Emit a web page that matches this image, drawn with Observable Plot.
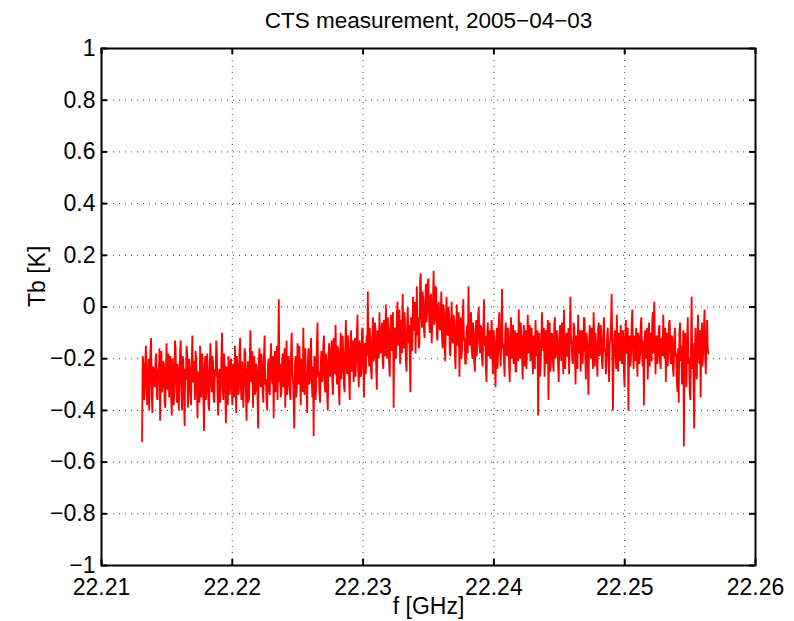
<!DOCTYPE html>
<html>
<head>
<meta charset="utf-8">
<script src="https://cdn.jsdelivr.net/npm/d3@7"></script>
<script src="https://cdn.jsdelivr.net/npm/@observablehq/plot@0.6"></script>
<style>
  html, body { margin: 0; padding: 0; background: #fff; }
  #chart svg { display: block; }
</style>
</head>
<body>
<div id="chart"></div>
<script>
const titleText = "CTS measurement, 2005\u221204\u221203";
const xLabel = "f [GHz]";
const yLabel = "Tb [K]";
const xTicks = [22.21, 22.22, 22.23, 22.24, 22.25, 22.26];
const yTicks = [-1, -0.8, -0.6, -0.4, -0.2, 0, 0.2, 0.4, 0.6, 0.8, 1];
const fStart = 22.2131;   // first channel frequency [GHz]
const fEnd = 22.2564;     // last channel frequency [GHz]

// brightness temperature per channel [K]
const tb = [
  -0.52, -0.19, -0.22, -0.36, -0.33, -0.21, -0.15, -0.31, -0.38, -0.26, -0.20, -0.40, -0.29, -0.17, -0.12, -0.34, -0.41, -0.23, -0.24, -0.30,
  -0.31, -0.20, -0.18, -0.35, -0.36, -0.24, -0.26, -0.16, -0.44, -0.28, -0.17, -0.33, -0.30, -0.21, -0.22, -0.37, -0.39, -0.25, -0.14, -0.32,
  -0.27, -0.18, -0.35, -0.23, -0.19, -0.34, -0.42, -0.20, -0.23, -0.38, -0.33, -0.13, -0.16, -0.29, -0.37, -0.22, -0.25, -0.40, -0.30, -0.17,
  -0.13, -0.31, -0.40, -0.19, -0.21, -0.35, -0.46, -0.24, -0.28, -0.15, -0.18, -0.39, -0.34, -0.20, -0.24, -0.33, -0.38, -0.21, -0.11, -0.29,
  -0.29, -0.21, -0.36, -0.17, -0.20, -0.32, -0.43, -0.25, -0.26, -0.37, -0.15, -0.30, -0.35, -0.18, -0.22, -0.34, -0.48, -0.23, -0.19, -0.36,
  -0.31, -0.18, -0.25, -0.38, -0.40, -0.22, -0.14, -0.29, -0.33, -0.19, -0.21, -0.36, -0.37, -0.24, -0.27, -0.13, -0.17, -0.34, -0.42, -0.26,
  -0.24, -0.37, -0.32, -0.20, -0.10, -0.30, -0.36, -0.18, -0.22, -0.33, -0.45, -0.23, -0.28, -0.38, -0.19, -0.27, -0.34, -0.21,
  -0.20, -0.31, -0.38, -0.22, -0.27, -0.35, -0.15, -0.29, -0.41, -0.19, -0.23, -0.34, -0.33, -0.17, -0.12, -0.30, -0.36, -0.21, -0.25, -0.39,
  -0.30, -0.16, -0.18, -0.33, -0.44, -0.26, -0.21, -0.37, -0.35, -0.20, -0.09, -0.28, -0.29, -0.17, -0.39, -0.23, -0.19, -0.34, -0.32, -0.22,
  -0.24, -0.35, -0.47, -0.21, -0.16, -0.29, -0.31, -0.18, -0.22, -0.33, -0.37, -0.19, -0.11, -0.30, -0.28, -0.36, -0.40, -0.23, -0.20, -0.32,
  -0.34, -0.21, -0.14, -0.27, -0.30, -0.19, -0.43, -0.24, -0.17, -0.33, -0.26, -0.15, -0.36, -0.20, 0.03, -0.29, -0.22, -0.35,
  -0.33, -0.22, -0.18, -0.31, -0.27, -0.16, -0.39, -0.25, -0.13, -0.34, -0.30, -0.19, -0.21, -0.32, -0.36, -0.17, -0.10, -0.26, -0.28, -0.37,
  -0.47, -0.23, -0.19, -0.35, -0.32, -0.14, -0.24, -0.30, -0.15, -0.27, -0.38, -0.20, -0.22, -0.33, -0.08, -0.25, -0.34, -0.16, -0.26, -0.31,
  -0.41, -0.21, -0.16, -0.30, -0.29, -0.18, -0.12, -0.28, -0.35, -0.23, -0.50, -0.19, -0.20, -0.36, -0.31, -0.14, -0.06, -0.27, -0.25, -0.33,
  -0.37, -0.22, -0.17, -0.29, -0.27, -0.15, -0.11, -0.30, -0.33, -0.18, -0.21, -0.34, -0.40, -0.19, -0.14, -0.26,
  -0.27, -0.17, -0.13, -0.29, -0.34, -0.12, -0.19, -0.26, -0.07, -0.22, -0.30, -0.15, -0.16, -0.31, -0.38, -0.18, -0.10, -0.28, -0.24, -0.11,
  -0.18, -0.30, -0.33, -0.15, -0.05, -0.23, -0.26, -0.11, -0.14, -0.28, -0.36, -0.17, -0.09, -0.25, -0.22, -0.13, -0.29, -0.19, -0.12, -0.27,
  -0.20, -0.10, -0.03, -0.24, -0.31, -0.13, -0.15, -0.27, -0.25, -0.09, -0.08, -0.21, -0.35, -0.14, -0.17, -0.26, -0.11, -0.19, 0.06, -0.16,
  -0.23, -0.08, -0.13, -0.25, -0.28, -0.12, -0.04, -0.21, -0.19, -0.06, -0.10, -0.24, -0.32, -0.09, -0.15, -0.20, -0.02, -0.14,
  -0.18, -0.09, -0.06, -0.21, -0.24, -0.05, -0.11, -0.19, 0.01, -0.14, -0.20, -0.04, -0.09, -0.22, -0.27, -0.08, -0.03, -0.17, -0.15, -0.02,
  -0.39, -0.12, -0.08, -0.20, -0.19, -0.03, 0.02, -0.15, -0.12, -0.01, -0.22, -0.07, -0.05, -0.18, 0.05, -0.09, -0.16, -0.02, -0.10, -0.21,
  -0.25, -0.06, 0.00, -0.14, -0.07, -0.20, -0.33, -0.04, -0.13, -0.17, 0.04, -0.08, -0.09, 0.02, -0.18, -0.05, 0.08, -0.11, -0.04, -0.16, -0.14, 0.10,
  0.13, -0.03, -0.08, 0.06, 0.03, -0.09, -0.12, 0.01, 0.09, -0.06, -0.02, 0.10, 0.11, -0.05, -0.10, 0.04, 0.05, -0.14, -0.06, 0.02,
  0.14, -0.07, -0.04, 0.08, 0.07, -0.11, -0.13, 0.00, 0.02, -0.08,
  -0.09, -0.02, 0.06, -0.12, -0.16, 0.01, -0.01, -0.14, -0.21, -0.05, 0.04, -0.10, -0.11, 0.00, -0.03, -0.17, -0.19, -0.06, 0.02, -0.13,
  -0.14, -0.03, -0.06, -0.19, -0.24, -0.08, 0.01, -0.15, -0.10, -0.02, -0.27, -0.11, -0.04, -0.20, -0.17, -0.05, 0.03, -0.13, -0.12, -0.22,
  -0.22, -0.10, -0.07, -0.18, 0.08, -0.09, -0.15, -0.04, -0.02, -0.16, -0.20, -0.06, -0.09, -0.21, -0.25, -0.11, -0.05, -0.19, -0.13, -0.03,
  0.00, -0.14, -0.18, -0.07, -0.08, -0.20, -0.23, -0.10, 0.03, -0.15, -0.11, -0.24, -0.29, -0.12, -0.06, -0.19, -0.16, -0.09,
  -0.20, -0.11, -0.05, -0.19, -0.26, -0.09, -0.12, -0.22, -0.31, -0.14, -0.08, -0.24, -0.18, -0.06, -0.02, -0.17, -0.23, -0.13, 0.07, -0.16,
  -0.14, -0.21, -0.27, -0.10, -0.06, -0.18, -0.19, -0.08, -0.10, -0.23, -0.29, -0.12, -0.04, -0.20, -0.16, -0.07, -0.22, -0.13, -0.09, -0.25,
  -0.25, -0.10, -0.13, -0.21, -0.01, -0.15, -0.20, -0.06, -0.11, -0.19, -0.28, -0.12, -0.07, -0.23, -0.17, -0.09, -0.24, -0.14, -0.03, -0.18,
  -0.15, -0.07, -0.21, -0.12, -0.08, -0.20, -0.26, -0.11, -0.12, -0.24, -0.05, -0.16, -0.19, -0.09, -0.42, -0.18, -0.10, -0.27, -0.23, -0.13,
  -0.02, -0.14, -0.17, -0.08, -0.27, -0.16, -0.09, -0.22, -0.14, -0.05, -0.36, -0.19, -0.06, -0.25, -0.20, -0.10, -0.11, -0.21, -0.25, -0.07,
  -0.04, -0.20, -0.18, -0.09, -0.13, -0.23, -0.29, -0.11, -0.07, -0.17, -0.21, -0.06, -0.15, -0.26, -0.01, -0.14, -0.24, -0.12, -0.10, -0.19,
  -0.19, -0.08, -0.26, -0.15, 0.04, -0.12, -0.14, -0.21, -0.22, -0.06, -0.08, -0.17, -0.30, -0.11, -0.12, -0.24, -0.03, -0.16, -0.18, -0.09,
  -0.25, -0.13, -0.09, -0.22, -0.16, -0.04, -0.05, -0.19, -0.28, -0.10, -0.13, -0.21, -0.34, -0.15, -0.07, -0.18, -0.20, -0.08, -0.11, -0.24,
  -0.02, -0.12, -0.23, -0.10, -0.15, -0.20, -0.27, -0.09, -0.06, -0.19, -0.18, -0.07, -0.10, -0.22, -0.24, -0.13, -0.04, -0.17, -0.16, -0.26,
  -0.21, -0.11, -0.08, -0.18, -0.29, -0.14, -0.13, -0.06, 0.05, -0.17, -0.40, -0.20, -0.12, -0.09, -0.19, -0.24, -0.03, -0.15, -0.25, -0.10,
  -0.14, -0.21, -0.07, -0.16, -0.22, -0.09, -0.10, -0.25, -0.31, -0.12, -0.05, -0.18, -0.17, -0.08, -0.40, -0.15, -0.11, -0.23, -0.20, -0.06,
  -0.01, -0.16, -0.24, -0.11, -0.15, -0.21, -0.08, -0.18, -0.27, -0.10, -0.12, -0.22, -0.19, -0.07, -0.04, -0.17, -0.23, -0.13, -0.38, -0.14,
  -0.09, -0.20, -0.16, -0.08, -0.28, -0.15, -0.06, -0.23, -0.13, -0.10, -0.21, -0.05, -0.02, -0.18, 0.02, -0.12, -0.26, -0.14, -0.11, -0.22,
  -0.18, -0.09, -0.07, -0.21, -0.24, -0.12, -0.14, -0.19, -0.03, -0.15, -0.20, -0.08, -0.29, -0.13, -0.10, -0.23, -0.16, -0.06, -0.05, -0.20,
  -0.22, -0.11, -0.12, -0.24, -0.27, -0.14, -0.08, -0.19, -0.18, -0.28, -0.33, -0.16, -0.37, -0.10, -0.06, -0.21, -0.15, -0.30, -0.25, -0.09,
  -0.54, -0.18, -0.10, -0.27, -0.31, -0.12, -0.04, -0.22, -0.20, -0.33, -0.36, -0.15, 0.04, -0.24, -0.14, -0.30, -0.47, -0.17, -0.08, -0.25,
  -0.28, -0.11, -0.03, -0.19, -0.22, -0.09, -0.35, -0.14, -0.06, -0.23, -0.17, -0.08, -0.01, -0.20, -0.26, -0.12, -0.05, -0.16, -0.18
];

const freq = tb.map((_, i) => fStart + (fEnd - fStart) * i / (tb.length - 1));
const spectrum = tb.map((v, i) => ({f: freq[i], tb: v}));

const W = 794, H = 621;
const mL = 101, mR = 39, mT = 48, mB = 56;
const frameW = W - mL - mR, frameH = H - mT - mB;
const tickLen = 6;
const font = "'Liberation Sans', Arial, Helvetica, sans-serif";
const fs = 23;

const yFmt = d => (d < 0 ? "\u2212" : "") + String(Math.abs(d));
const xFmt = d => d.toFixed(2);

const chart = Plot.plot({
  width: W,
  height: H,
  marginLeft: mL,
  marginRight: mR,
  marginTop: mT,
  marginBottom: mB,
  style: {fontFamily: font, fontSize: fs + "px", color: "#000", background: "#fff", overflow: "visible"},
  x: {domain: [22.21, 22.26], ticks: xTicks, tickFormat: xFmt, tickSize: 0, tickPadding: 13, label: null},
  y: {domain: [-1, 1], ticks: yTicks, tickFormat: yFmt, tickSize: 0, tickPadding: 6, label: null},
  marks: [
    Plot.ruleX(xTicks.slice(1, -1), {x: d => d, stroke: "#000", strokeWidth: 1, strokeDasharray: "1,5", strokeOpacity: 0.75}),
    Plot.ruleY(yTicks.slice(1, -1), {y: d => d, stroke: "#000", strokeWidth: 1, strokeDasharray: "1,5", strokeOpacity: 0.75}),
    Plot.line(spectrum, {x: "f", y: "tb", stroke: "#ff0000", strokeWidth: 1.8, strokeLinejoin: "miter"}),
    Plot.frame({stroke: "#000", strokeWidth: 2}),
    Plot.ruleX(xTicks, {x: d => d, stroke: "#000", strokeWidth: 2, insetTop: frameH - tickLen}),
    Plot.ruleX(xTicks, {x: d => d, stroke: "#000", strokeWidth: 2, insetBottom: frameH - tickLen}),
    Plot.ruleY(yTicks, {y: d => d, stroke: "#000", strokeWidth: 2, insetRight: frameW - tickLen}),
    Plot.ruleY(yTicks, {y: d => d, stroke: "#000", strokeWidth: 2, insetLeft: frameW - tickLen}),
    Plot.text([titleText], {frameAnchor: "top", lineAnchor: "middle", dy: -28, text: d => d, fontSize: 22.5, fill: "#000"}),
    Plot.text([xLabel], {frameAnchor: "bottom", lineAnchor: "middle", dy: 41, text: d => d, fontSize: fs, fill: "#000"}),
    Plot.text([yLabel], {frameAnchor: "left", lineAnchor: "middle", dx: -64, rotate: -90, text: d => d, fontSize: fs, fill: "#000"})
  ]
});

document.getElementById("chart").appendChild(chart);
</script>
</body>
</html>
